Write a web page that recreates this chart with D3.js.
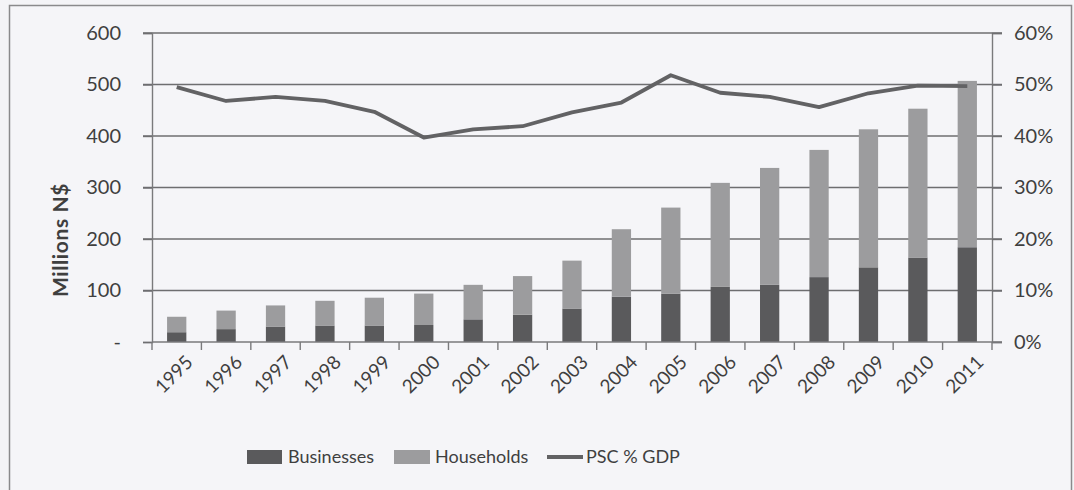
<!DOCTYPE html>
<html>
<head>
<meta charset="utf-8">
<script src="https://cdn.jsdelivr.net/npm/d3@7"></script>
<style>
  html, body { margin: 0; padding: 0; background: #f4f4f7; }
  svg { display: block; }
  text { font-family: Lato, "Open Sans", sans-serif; fill: #3f3f3f; }
</style>
</head>
<body>
<svg id="chart" width="1074" height="490"></svg>
<script>
// Public service charges, millions N$, and charges as share of GDP
const years = ["1995","1996","1997","1998","1999","2000","2001","2002","2003",
               "2004","2005","2006","2007","2008","2009","2010","2011"];
const businesses = [19, 25, 30, 32, 32, 33, 44, 53, 65, 88, 94, 107, 111, 126, 145, 164, 184];
const households = [30, 36, 41, 48, 54, 61, 67, 75, 93, 131, 167, 202, 227, 247, 268, 289, 323];
const pscGdp = [49.5, 46.8, 47.6, 46.8, 44.7, 39.7, 41.3, 41.9, 44.6, 46.5, 51.8, 48.4, 47.6, 45.6, 48.3, 49.8, 49.7];
const leftTicks = [0, 100, 200, 300, 400, 500, 600];
const rightTicks = [0, 10, 20, 30, 40, 50, 60];
const seriesNames = ["Businesses", "Households", "PSC % GDP"];

const colors = { businesses: "#5a5a5c", households: "#9c9c9e", line: "#626264", grid: "#6e6e70", axis: "#7a7a7c" };

const svg = d3.select("#chart");
const plot = { left: 152, right: 992, top: 33, bottom: 342 };

// frame around the whole figure
svg.append("rect")
  .attr("x", 9.5).attr("y", 5.5).attr("width", 1062).attr("height", 500)
  .attr("fill", "#f5f5f8").attr("stroke", "#8a8a8c").attr("stroke-width", 1.5);

const x = d3.scaleBand().domain(years).range([plot.left, plot.right]).paddingInner(0.61).paddingOuter(0.305);
const xOuter = d3.scaleBand().domain(years).range([plot.left, plot.right]);
const yL = d3.scaleLinear().domain([0, 600]).range([plot.bottom, plot.top]);
const yR = d3.scaleLinear().domain([0, 60]).range([plot.bottom, plot.top]);

// horizontal gridlines with outer tick extensions on both sides
const gridG = svg.append("g");
gridG.selectAll("line").data(leftTicks.filter(d => d > 0)).join("line")
  .attr("x1", plot.left - 9).attr("x2", plot.right + 10)
  .attr("y1", d => yL(d)).attr("y2", d => yL(d))
  .attr("stroke", colors.grid).attr("stroke-width", 1.4);

// stacked bars
const stack = years.map((yr, i) => ({ yr, b: businesses[i], h: households[i] }));
svg.append("g").selectAll("rect").data(stack).join("rect")
  .attr("x", d => x(d.yr)).attr("width", x.bandwidth())
  .attr("y", d => yL(d.b)).attr("height", d => yL(0) - yL(d.b))
  .attr("fill", colors.businesses);
svg.append("g").selectAll("rect").data(stack).join("rect")
  .attr("x", d => x(d.yr)).attr("width", x.bandwidth())
  .attr("y", d => yL(d.b + d.h)).attr("height", d => yL(d.b) - yL(d.b + d.h))
  .attr("fill", colors.households);

// left axis
const leftAxis = d3.axisLeft(yL).tickValues(leftTicks).tickSize(9).tickPadding(22)
  .tickFormat(d => d === 0 ? "-" : d);
const gL = svg.append("g").attr("transform", `translate(${plot.left},0)`).call(leftAxis);
gL.select(".domain").attr("stroke", colors.axis).attr("stroke-width", 1.4);
gL.selectAll(".tick line").attr("stroke", colors.grid).attr("stroke-width", 1.4);
gL.selectAll(".tick text").style("font-size", "20px").attr("fill", "#3f3f3f");

// right axis
const rightAxis = d3.axisRight(yR).tickValues(rightTicks).tickSize(10).tickPadding(12)
  .tickFormat(d => d + "%");
const gR = svg.append("g").attr("transform", `translate(${plot.right},0)`).call(rightAxis);
gR.select(".domain").attr("stroke", colors.axis).attr("stroke-width", 1.4);
gR.selectAll(".tick line").attr("stroke", colors.grid).attr("stroke-width", 1.4);
gR.selectAll(".tick text").style("font-size", "20px").attr("fill", "#3f3f3f");

// bottom axis: ticks between categories
const gB = svg.append("g");
gB.append("line").attr("x1", plot.left).attr("x2", plot.right + 10)
  .attr("y1", plot.bottom).attr("y2", plot.bottom)
  .attr("stroke", colors.axis).attr("stroke-width", 1.4);
const bounds = years.map(yr => xOuter(yr)).concat([plot.right]);
gB.selectAll("line.tk").data(bounds).join("line").attr("class", "tk")
  .attr("x1", d => d).attr("x2", d => d)
  .attr("y1", plot.bottom).attr("y2", plot.bottom + 8)
  .attr("stroke", colors.axis).attr("stroke-width", 1.4);
gB.selectAll("text").data(years).join("text")
  .attr("transform", d => `translate(${xOuter(d) + xOuter.bandwidth() / 2 + 8},${plot.bottom + 12}) rotate(-45)`)
  .attr("text-anchor", "end").attr("dy", "0.7em")
  .style("font-size", "19px")
  .text(d => d);

// share of GDP line
const line = d3.line()
  .x((d, i) => xOuter(years[i]) + xOuter.bandwidth() / 2)
  .y(d => yR(d));
svg.append("path").datum(pscGdp).attr("d", line)
  .attr("fill", "none").attr("stroke", colors.line).attr("stroke-width", 3.8)
  .attr("stroke-linejoin", "round");

// y axis title
svg.append("text")
  .attr("transform", "translate(61,240) rotate(-90)")
  .attr("text-anchor", "middle").attr("dy", "0.35em")
  .style("font-size", "21px").style("font-weight", "bold").style("letter-spacing", "0.6px")
  .attr("fill", "#2f2f2f")
  .text("Millions N$");

// legend
const lg = svg.append("g").attr("transform", "translate(0,457)");
lg.append("rect").attr("x", 247).attr("y", -7).attr("width", 35).attr("height", 14).attr("fill", colors.businesses);
lg.append("text").attr("x", 288).attr("dy", "0.35em").style("font-size", "18px").text(seriesNames[0]);
lg.append("rect").attr("x", 394).attr("y", -7).attr("width", 36).attr("height", 14).attr("fill", colors.households);
lg.append("text").attr("x", 435).attr("dy", "0.35em").style("font-size", "18px").text(seriesNames[1]);
lg.append("line").attr("x1", 547).attr("x2", 583).attr("y1", 0).attr("y2", 0)
  .attr("stroke", colors.line).attr("stroke-width", 3.8);
lg.append("text").attr("x", 586).attr("dy", "0.35em").style("font-size", "18px").text(seriesNames[2]);
</script>
</body>
</html>
